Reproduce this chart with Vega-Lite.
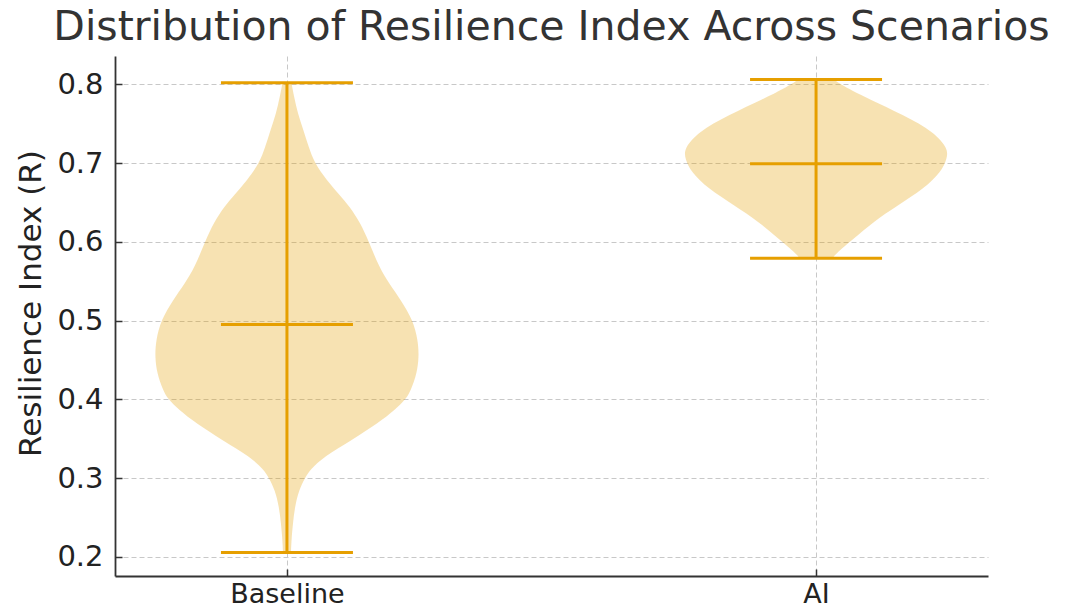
{
  "$schema": "https://vega.github.io/schema/vega-lite/v6.json",
  "width": 873,
  "height": 520,
  "autosize": {"type": "none"},
  "padding": {"left": 115, "top": 56, "right": 83, "bottom": 34},
  "background": "white",
  "title": {
    "text": "Distribution of Resilience Index Across Scenarios",
    "fontSize": 41,
    "font": "DejaVu Sans",
    "fontWeight": "normal",
    "color": "#333333",
    "anchor": "middle",
    "baseline": "alphabetic",
    "offset": -25
  },
  "config": {
    "view": {"stroke": null},
    "axis": {
      "labelFont": "DejaVu Sans",
      "titleFont": "DejaVu Sans",
      "labelColor": "#222222",
      "titleColor": "#222222",
      "domainColor": "#333333",
      "domainWidth": 1.8,
      "tickColor": "#333333",
      "tickWidth": 1.5,
      "tickSize": -7,
      "gridColor": "#c8c8c8",
      "gridDash": [5, 3],
      "gridWidth": 1,
      "titleFontWeight": "normal"
    }
  },
  "datasets": {
    "violin": [
      {"group": "Baseline", "pos": 1, "r": 0.2056, "w": 0.0076},
      {"group": "Baseline", "pos": 1, "r": 0.2215, "w": 0.0085},
      {"group": "Baseline", "pos": 1, "r": 0.2426, "w": 0.0113},
      {"group": "Baseline", "pos": 1, "r": 0.2638, "w": 0.0151},
      {"group": "Baseline", "pos": 1, "r": 0.2849, "w": 0.0227},
      {"group": "Baseline", "pos": 1, "r": 0.3, "w": 0.034},
      {"group": "Baseline", "pos": 1, "r": 0.3103, "w": 0.0435},
      {"group": "Baseline", "pos": 1, "r": 0.3272, "w": 0.07},
      {"group": "Baseline", "pos": 1, "r": 0.3484, "w": 0.1229},
      {"group": "Baseline", "pos": 1, "r": 0.3696, "w": 0.172},
      {"group": "Baseline", "pos": 1, "r": 0.3865, "w": 0.2042},
      {"group": "Baseline", "pos": 1, "r": 0.4004, "w": 0.225},
      {"group": "Baseline", "pos": 1, "r": 0.4118, "w": 0.2344},
      {"group": "Baseline", "pos": 1, "r": 0.433, "w": 0.2457},
      {"group": "Baseline", "pos": 1, "r": 0.4541, "w": 0.2495},
      {"group": "Baseline", "pos": 1, "r": 0.4753, "w": 0.2476},
      {"group": "Baseline", "pos": 1, "r": 0.5006, "w": 0.238},
      {"group": "Baseline", "pos": 1, "r": 0.526, "w": 0.2155},
      {"group": "Baseline", "pos": 1, "r": 0.547, "w": 0.193},
      {"group": "Baseline", "pos": 1, "r": 0.568, "w": 0.174},
      {"group": "Baseline", "pos": 1, "r": 0.6, "w": 0.155},
      {"group": "Baseline", "pos": 1, "r": 0.625, "w": 0.138},
      {"group": "Baseline", "pos": 1, "r": 0.645, "w": 0.118},
      {"group": "Baseline", "pos": 1, "r": 0.66, "w": 0.099},
      {"group": "Baseline", "pos": 1, "r": 0.678, "w": 0.0756},
      {"group": "Baseline", "pos": 1, "r": 0.7, "w": 0.052},
      {"group": "Baseline", "pos": 1, "r": 0.7205, "w": 0.0410},
      {"group": "Baseline", "pos": 1, "r": 0.742, "w": 0.0310},
      {"group": "Baseline", "pos": 1, "r": 0.763, "w": 0.0205},
      {"group": "Baseline", "pos": 1, "r": 0.784, "w": 0.0135},
      {"group": "Baseline", "pos": 1, "r": 0.802, "w": 0.0085},
      {"group": "AI", "pos": 2, "r": 0.579, "w": 0.032},
      {"group": "AI", "pos": 2, "r": 0.5831, "w": 0.034},
      {"group": "AI", "pos": 2, "r": 0.6043, "w": 0.0718},
      {"group": "AI", "pos": 2, "r": 0.6253, "w": 0.1078},
      {"group": "AI", "pos": 2, "r": 0.6465, "w": 0.155},
      {"group": "AI", "pos": 2, "r": 0.6677, "w": 0.2042},
      {"group": "AI", "pos": 2, "r": 0.6888, "w": 0.2363},
      {"group": "AI", "pos": 2, "r": 0.7057, "w": 0.2476},
      {"group": "AI", "pos": 2, "r": 0.7184, "w": 0.2495},
      {"group": "AI", "pos": 2, "r": 0.7395, "w": 0.223},
      {"group": "AI", "pos": 2, "r": 0.7607, "w": 0.1664},
      {"group": "AI", "pos": 2, "r": 0.7818, "w": 0.0983},
      {"group": "AI", "pos": 2, "r": 0.7945, "w": 0.0605},
      {"group": "AI", "pos": 2, "r": 0.806, "w": 0.034}
    ],
    "stats": [
      {"group": "Baseline", "pos": 1, "min": 0.2056, "median": 0.495, "max": 0.802},
      {"group": "AI", "pos": 2, "min": 0.579, "median": 0.699, "max": 0.806}
    ]
  },
  "layer": [
    {
      "data": {"name": "violin"},
      "transform": [
        {"calculate": "datum.pos - datum.w", "as": "lo"},
        {"calculate": "datum.pos + datum.w", "as": "hi"}
      ],
      "mark": {"type": "area", "orient": "horizontal", "color": "#e69f00", "opacity": 0.3, "interpolate": "basis"},
      "encoding": {
        "y": {
          "field": "r", "type": "quantitative",
          "scale": {"domain": [0.1756, 0.836], "nice": false, "zero": false},
          "axis": {
            "title": "Resilience Index (R)",
            "titleFontSize": 31,
            "titleBaseline": "alphabetic",
            "titleAngle": -90,
            "titleX": -75,
            "titleY": 247,
            "values": [0.2, 0.3, 0.4, 0.5, 0.6, 0.7, 0.8],
            "format": ".1f",
            "labelFontSize": 29,
            "labelPadding": 19,
            "grid": true
          }
        },
        "x": {
          "field": "lo", "type": "quantitative",
          "scale": {"domain": [0.675, 2.325], "nice": false, "zero": false},
          "axis": {
            "title": null,
            "values": [1, 2],
            "labelExpr": "datum.value == 1 ? 'Baseline' : 'AI'",
            "labelFontSize": 27,
            "labelBaseline": "alphabetic",
            "labelPadding": 33,
            "grid": true
          }
        },
        "x2": {"field": "hi"},
        "detail": {"field": "group"}
      }
    },
    {
      "data": {"name": "stats"},
      "mark": {"type": "rule", "color": "#e69f00", "strokeWidth": 3},
      "encoding": {
        "x": {"field": "pos", "type": "quantitative"},
        "y": {"field": "min", "type": "quantitative"},
        "y2": {"field": "max"}
      }
    },
    {
      "data": {"name": "stats"},
      "transform": [{"fold": ["min", "median", "max"], "as": ["stat", "value"]}],
      "mark": {"type": "tick", "orient": "horizontal", "color": "#e69f00", "size": 132, "thickness": 3, "opacity": 1},
      "encoding": {
        "x": {"field": "pos", "type": "quantitative"},
        "y": {"field": "value", "type": "quantitative"}
      }
    }
  ]
}
